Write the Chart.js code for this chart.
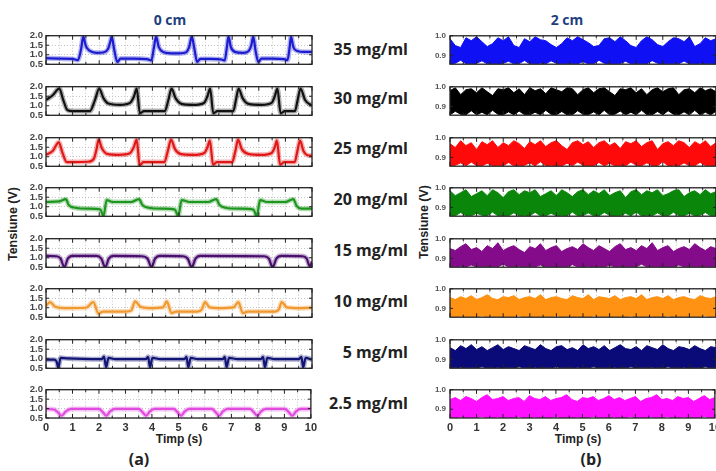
<!DOCTYPE html>
<html>
<head>
<meta charset="utf-8">
<script src="https://cdn.jsdelivr.net/npm/chart.js@4.4.0/dist/chart.umd.min.js"></script>
<style>
  body { margin: 0; width: 716px; height: 471px; overflow: hidden; background: #fff; position: relative; font-family: "Liberation Sans", Arial, sans-serif; }
  canvas { position: absolute; }
  .t { position: absolute; white-space: nowrap; transform: translate(-50%, -50%); color: #222; }
  .title { font: bold 14px "Open Sans", sans-serif; color: #1f3f7f; }
  .conc { position: absolute; white-space: nowrap; transform: translateY(-50%); right: 308px; font: bold 16px "Open Sans", sans-serif; color: #222; }
  .axt { font: bold 12px "Liberation Sans", Arial, sans-serif; }
  .ylab { font: bold 12.5px "Liberation Sans", Arial, sans-serif; transform: translate(-50%, -50%) rotate(-90deg); }
  .sub { font: bold 16px "Open Sans", sans-serif; }
</style>
</head>
<body>
<div class="t title" style="left:170px;top:19px">0 cm</div>
<div class="t title" style="left:567px;top:19px">2 cm</div>
<div class="t ylab" style="left:13px;top:224px">Tensiune (V)</div>
<div class="t ylab" style="left:424px;top:222px">Tensiune (V)</div>
<div class="t axt" style="left:179px;top:439px">Timp (s)</div>
<div class="t axt" style="left:578px;top:439px">Timp (s)</div>
<div class="t sub" style="left:139px;top:459px">(a)</div>
<div class="t sub" style="left:591px;top:459px">(b)</div>

<script>
// concentrations (rows, top to bottom)
const concLabels = ["35 mg/ml", "30 mg/ml", "25 mg/ml", "20 mg/ml", "15 mg/ml", "10 mg/ml", "5 mg/ml", "2.5 mg/ml"];

// 0 cm traces: [time (s), voltage (V)]
const s35 = [[0,0.82],[0.5,0.8],[1.0,0.78],[1.2,0.72],[1.32,1.3],[1.4,1.95],[1.5,1.45],[1.65,1.2],[1.9,1.1],[2.15,1.12],[2.33,1.3],[2.42,1.7],[2.47,1.95],[2.56,1.3],[2.68,0.62],[2.8,0.8],[3.3,0.8],[3.8,0.77],[3.96,0.7],[4.06,1.4],[4.14,1.95],[4.24,1.4],[4.4,1.15],[4.85,1.07],[5.25,1.12],[5.38,1.4],[5.48,1.95],[5.58,1.3],[5.68,0.62],[5.8,0.78],[6.2,0.78],[6.6,0.75],[6.72,0.7],[6.8,1.4],[6.86,1.95],[6.95,1.4],[7.1,1.15],[7.4,1.1],[7.62,1.2],[7.72,1.5],[7.79,1.95],[7.88,1.2],[7.98,0.62],[8.1,0.8],[8.5,0.8],[8.95,0.77],[9.08,0.72],[9.16,1.4],[9.21,1.95],[9.3,1.4],[9.45,1.2],[9.7,1.15],[10,1.15]];
const s30 = [[0,1.3],[0.25,1.55],[0.5,1.9],[0.65,1.3],[0.8,0.78],[1.0,0.72],[1.65,0.72],[1.84,1.3],[2.0,1.9],[2.16,1.4],[2.34,1.12],[2.78,1.05],[3.16,1.15],[3.31,1.5],[3.41,1.9],[3.53,0.6],[3.68,0.72],[4.47,0.72],[4.6,1.3],[4.72,1.9],[4.87,1.4],[5.1,1.1],[5.54,1.05],[5.94,1.15],[6.07,1.5],[6.17,1.9],[6.29,0.6],[6.44,0.72],[7.04,0.72],[7.14,1.3],[7.24,1.9],[7.39,1.4],[7.61,1.1],[8.11,1.05],[8.48,1.15],[8.6,1.5],[8.7,1.9],[8.82,0.6],[8.98,0.72],[9.36,0.72],[9.46,1.3],[9.57,1.9],[9.74,1.3],[10,1.0]];
const s25 = [[0,1.1],[0.25,1.3],[0.48,1.76],[0.62,1.2],[0.78,0.72],[1.0,0.72],[1.6,0.74],[1.8,0.9],[1.9,1.4],[1.98,1.9],[2.1,1.45],[2.3,1.15],[2.75,1.1],[3.15,1.18],[3.3,1.5],[3.41,1.9],[3.52,0.55],[3.66,0.72],[4.45,0.72],[4.58,1.3],[4.7,1.9],[4.85,1.4],[5.05,1.15],[5.55,1.1],[5.95,1.2],[6.07,1.5],[6.16,1.85],[6.28,0.58],[6.42,0.72],[7.0,0.72],[7.12,1.3],[7.22,1.9],[7.36,1.4],[7.6,1.15],[8.1,1.1],[8.48,1.2],[8.6,1.5],[8.68,1.85],[8.8,0.58],[8.95,0.72],[9.35,0.72],[9.45,1.3],[9.55,1.85],[9.68,1.3],[9.8,1.1],[10,1.05]];
const s20 = [[0,1.25],[0.5,1.28],[0.75,1.4],[0.85,1.1],[1.1,0.95],[1.6,0.9],[2.05,0.85],[2.16,0.5],[2.28,1.35],[2.5,1.25],[3.2,1.25],[3.5,1.4],[3.62,1.1],[3.85,0.95],[4.4,0.9],[4.85,0.85],[4.97,0.5],[5.1,1.35],[5.4,1.25],[6.1,1.25],[6.4,1.4],[6.52,1.1],[6.75,0.95],[7.3,0.9],[7.8,0.85],[7.92,0.5],[8.05,1.35],[8.3,1.25],[9.0,1.25],[9.3,1.4],[9.42,1.05],[9.6,0.9],[10,0.9]];
const s15 = [[0,1.1],[0.4,1.08],[0.55,0.95],[0.69,0.5],[0.82,0.95],[1.0,1.1],[1.9,1.1],[2.08,0.95],[2.23,0.5],[2.36,0.95],[2.55,1.1],[3.6,1.08],[3.82,0.95],[3.97,0.5],[4.1,0.95],[4.3,1.1],[5.15,1.08],[5.33,0.95],[5.48,0.5],[5.62,0.95],[5.8,1.1],[8.2,1.08],[8.38,0.95],[8.52,0.5],[8.66,0.95],[8.85,1.1],[9.65,1.08],[9.8,0.95],[9.92,0.55],[10,0.8]];
const s10 = [[0,1.1],[0.15,1.3],[0.35,1.05],[0.7,0.98],[1.5,1.0],[1.78,1.3],[1.97,0.7],[2.15,0.8],[3.0,0.8],[3.2,0.85],[3.35,1.33],[3.55,1.05],[3.9,0.98],[4.4,1.02],[4.54,1.33],[4.72,0.72],[4.9,0.8],[5.7,0.8],[5.85,0.9],[5.98,1.3],[6.15,1.02],[6.5,0.98],[7.05,1.02],[7.23,1.3],[7.4,0.72],[7.6,0.8],[8.6,0.8],[8.75,0.9],[8.86,1.3],[9.05,1.02],[9.5,0.98],[10,1.0]];
const s5 = [[0,0.95],[0.3,0.95],[0.4,0.85],[0.46,0.52],[0.55,1.05],[0.8,1.02],[2.1,0.98],[2.18,1.12],[2.26,0.55],[2.35,1.05],[2.6,0.98],[3.75,0.98],[3.84,1.1],[3.91,0.55],[4.0,1.05],[4.3,0.98],[5.2,0.98],[5.28,1.1],[5.35,0.55],[5.44,1.05],[5.7,0.98],[6.65,0.98],[6.72,1.1],[6.79,0.55],[6.88,1.05],[7.2,0.98],[8.08,0.98],[8.16,1.1],[8.23,0.55],[8.32,1.05],[8.6,0.98],[9.5,0.98],[9.6,1.1],[9.67,0.55],[9.76,1.05],[10,0.95]];
const s2_5 = [[0,0.98],[0.3,0.95],[0.45,0.8],[0.59,0.62],[0.75,0.85],[0.95,0.98],[2.0,0.98],[2.15,0.8],[2.28,0.62],[2.42,0.85],[2.6,0.98],[3.5,0.98],[3.65,0.8],[3.78,0.62],[3.92,0.85],[4.1,0.98],[4.82,0.98],[4.97,0.8],[5.1,0.62],[5.24,0.85],[5.42,0.98],[6.26,0.98],[6.41,0.8],[6.54,0.62],[6.68,0.85],[6.86,0.98],[7.7,0.98],[7.85,0.8],[7.98,0.62],[8.12,0.85],[8.3,0.98],[9.02,0.98],[9.17,0.8],[9.3,0.62],[9.44,0.85],[9.62,0.98],[10,0.98]];

// 2 cm traces: sampling times and upper / lower edge of the noise band (V)
const tRight = [0,0.2,0.4,0.6,0.8,1.0,1.2,1.4,1.6,1.8,2.0,2.2,2.4,2.6,2.8,3.0,3.2,3.4,3.6,3.8,4.0,4.2,4.4,4.6,4.8,5.0,5.2,5.4,5.6,5.8,6.0,6.2,6.4,6.6,6.8,7.0,7.2,7.4,7.6,7.8,8.0,8.2,8.4,8.6,8.8,9.0,9.2,9.4,9.6,9.8,10];
const up35 = [0.985,0.95,0.94,0.99,0.975,0.995,0.97,0.945,0.96,0.99,0.975,0.995,0.95,0.94,0.985,0.97,0.995,0.98,0.975,0.955,0.94,0.96,0.99,0.975,0.995,0.98,0.965,0.945,0.95,0.985,0.99,0.97,0.995,0.975,0.95,0.94,0.975,0.995,0.98,0.955,0.945,0.97,0.99,0.985,0.97,0.995,0.945,0.96,0.99,0.975,0.985];
const lo35 = [0.857,0.86,0.875,0.858,0.857,0.86,0.872,0.857,0.857,0.858,0.86,0.87,0.857,0.858,0.874,0.857,0.857,0.86,0.857,0.872,0.86,0.857,0.857,0.858,0.857,0.868,0.857,0.857,0.875,0.86,0.857,0.857,0.858,0.87,0.857,0.857,0.858,0.857,0.873,0.86,0.857,0.857,0.858,0.857,0.871,0.857,0.857,0.86,0.857,0.858,0.857];
const up30 = [0.98,0.995,0.96,0.985,0.99,0.97,0.995,0.975,0.955,0.99,0.985,0.995,0.97,0.99,0.96,0.995,0.98,0.99,0.965,0.995,0.985,0.975,0.995,0.99,0.96,0.985,0.995,0.97,0.99,0.995,0.975,0.955,0.99,0.985,0.995,0.97,0.99,0.96,0.985,0.995,0.975,0.99,0.995,0.96,0.985,0.99,0.97,0.995,0.98,0.99,0.975];
const lo30 = [0.857,0.875,0.86,0.857,0.878,0.857,0.87,0.857,0.88,0.86,0.857,0.872,0.857,0.876,0.858,0.857,0.87,0.857,0.88,0.86,0.857,0.874,0.857,0.857,0.878,0.86,0.857,0.872,0.857,0.88,0.857,0.86,0.876,0.857,0.87,0.857,0.88,0.858,0.857,0.874,0.857,0.878,0.86,0.857,0.872,0.857,0.88,0.857,0.87,0.857,0.875];
const up25 = [0.97,0.95,0.985,0.96,0.975,0.94,0.98,0.965,0.985,0.95,0.975,0.96,0.985,0.97,0.945,0.98,0.965,0.985,0.955,0.975,0.985,0.96,0.94,0.975,0.985,0.965,0.98,0.95,0.975,0.985,0.96,0.975,0.945,0.98,0.97,0.985,0.955,0.975,0.985,0.94,0.97,0.98,0.96,0.985,0.975,0.95,0.98,0.965,0.985,0.955,0.975];
const lo25 = [0.857,0.86,0.872,0.857,0.876,0.858,0.857,0.87,0.857,0.86,0.857,0.874,0.857,0.857,0.86,0.872,0.857,0.878,0.857,0.86,0.857,0.857,0.87,0.857,0.876,0.86,0.857,0.857,0.874,0.857,0.87,0.857,0.858,0.857,0.876,0.86,0.857,0.872,0.857,0.857,0.878,0.857,0.86,0.857,0.872,0.857,0.857,0.875,0.858,0.857,0.86];
const up20 = [0.985,0.96,0.975,0.99,0.955,0.97,0.985,0.96,0.99,0.975,0.95,0.98,0.99,0.965,0.985,0.975,0.99,0.955,0.97,0.985,0.96,0.99,0.975,0.955,0.98,0.99,0.965,0.985,0.97,0.99,0.96,0.975,0.985,0.95,0.98,0.99,0.965,0.985,0.975,0.99,0.96,0.97,0.985,0.99,0.955,0.975,0.985,0.965,0.99,0.97,0.98];
const lo20 = [0.86,0.857,0.874,0.857,0.857,0.87,0.86,0.857,0.876,0.857,0.858,0.857,0.872,0.857,0.86,0.857,0.875,0.857,0.857,0.87,0.857,0.86,0.857,0.876,0.857,0.858,0.872,0.857,0.857,0.874,0.86,0.857,0.857,0.87,0.857,0.876,0.857,0.86,0.857,0.872,0.857,0.857,0.875,0.858,0.857,0.87,0.857,0.86,0.874,0.857,0.857];
const up15 = [0.95,0.94,0.96,0.975,0.945,0.955,0.935,0.965,0.95,0.98,0.94,0.955,0.965,0.945,0.93,0.96,0.95,0.975,0.94,0.955,0.965,0.935,0.95,0.96,0.945,0.975,0.955,0.94,0.965,0.95,0.935,0.96,0.975,0.945,0.955,0.94,0.965,0.95,0.98,0.94,0.955,0.965,0.935,0.95,0.96,0.945,0.975,0.955,0.94,0.96,0.95];
const lo15 = [0.857,0.857,0.86,0.857,0.866,0.857,0.857,0.858,0.857,0.857,0.87,0.857,0.857,0.86,0.857,0.857,0.857,0.866,0.857,0.857,0.858,0.857,0.857,0.868,0.857,0.857,0.86,0.857,0.857,0.857,0.865,0.857,0.857,0.857,0.858,0.857,0.87,0.857,0.857,0.857,0.86,0.857,0.857,0.866,0.857,0.857,0.857,0.858,0.857,0.857,0.857];
const up10 = [0.955,0.945,0.96,0.95,0.965,0.945,0.955,0.97,0.95,0.945,0.96,0.955,0.965,0.945,0.955,0.96,0.95,0.97,0.945,0.955,0.96,0.95,0.945,0.965,0.955,0.95,0.97,0.945,0.96,0.955,0.95,0.965,0.945,0.955,0.96,0.95,0.97,0.945,0.955,0.96,0.95,0.965,0.945,0.955,0.96,0.95,0.945,0.965,0.955,0.95,0.96];
const up5 = [0.96,0.945,0.97,0.955,0.975,0.95,0.965,0.945,0.96,0.975,0.95,0.965,0.955,0.945,0.97,0.96,0.95,0.975,0.955,0.945,0.965,0.97,0.95,0.96,0.945,0.975,0.955,0.965,0.95,0.97,0.945,0.96,0.975,0.955,0.95,0.965,0.945,0.97,0.96,0.95,0.975,0.955,0.945,0.965,0.96,0.95,0.97,0.955,0.945,0.965,0.96];
const up2_5 = [0.95,0.96,0.945,0.965,0.955,0.94,0.96,0.975,0.95,0.955,0.965,0.945,0.955,0.96,0.94,0.97,0.955,0.95,0.965,0.945,0.955,0.96,0.975,0.95,0.94,0.96,0.955,0.965,0.945,0.955,0.97,0.95,0.96,0.945,0.955,0.965,0.94,0.955,0.96,0.975,0.95,0.955,0.945,0.965,0.955,0.96,0.94,0.955,0.97,0.95,0.96];
// band floor shared by the three lowest-concentration 2 cm traces
const loFloor = [0.857,0.857,0.86,0.857,0.857,0.857,0.862,0.857,0.857,0.86,0.857,0.857,0.857,0.862,0.857,0.857,0.86,0.857,0.857,0.857,0.862,0.857,0.857,0.857,0.86,0.857,0.857,0.862,0.857,0.857,0.857,0.86,0.857,0.857,0.862,0.857,0.857,0.857,0.86,0.857,0.857,0.862,0.857,0.857,0.86,0.857,0.857,0.857,0.862,0.857,0.857];

// axis ticks
const xTickLabels = [0, 1, 2, 3, 4, 5, 6, 7, 8, 9, 10];
const yLeftTicks = [0.5, 1.0, 1.5, 2.0];
const yRightTicks = [0.9, 1.0];

const leftSeries = [s35, s30, s25, s20, s15, s10, s5, s2_5];
const rightUpper = [up35, up30, up25, up20, up15, up10, up5, up2_5];
const rightLower = [lo35, lo30, lo25, lo20, lo15, loFloor, loFloor, loFloor];

// styles
const leftColors = ["#1c1cd0", "#111111", "#e01818", "#1f951f", "#4a0f6e", "#f09a30", "#131575", "#e24ce0"];
const rightColors = ["#1010f5", "#000000", "#ff0a0a", "#0a870a", "#840c8a", "#ff9212", "#0a0a78", "#ff10ff"];
const tops = [34, 85, 136, 186, 237, 287, 338, 388];
const heights = [32, 32, 32, 32, 32, 32, 32, 30];
const labelY = [49, 98, 148, 199, 250, 301, 352, 403];

// box + inward tick marks
const frame = {
  id: "frame",
  afterDatasetsDraw(chart) {
    const { ctx, chartArea: a, scales } = chart;
    ctx.save();
    ctx.strokeStyle = "#222";
    ctx.lineWidth = 1.3;
    ctx.strokeRect(a.left, a.top, a.right - a.left, a.bottom - a.top);
    ctx.lineWidth = 1;
    ctx.beginPath();
    scales.x.ticks.forEach((t) => {
      const px = scales.x.getPixelForValue(t.value);
      const len = Number.isInteger(t.value) ? 4 : 2.5;
      ctx.moveTo(px, a.top); ctx.lineTo(px, a.top + len);
      ctx.moveTo(px, a.bottom); ctx.lineTo(px, a.bottom - len);
    });
    scales.y.ticks.forEach((t) => {
      const py = scales.y.getPixelForValue(t.value);
      ctx.moveTo(a.left, py); ctx.lineTo(a.left + 3, py);
      ctx.moveTo(a.right, py); ctx.lineTo(a.right - 3, py);
    });
    ctx.stroke();
    ctx.restore();
  },
};

function makePanel(left, row, datasets, yScale) {
  const last = row === tops.length - 1;
  const padTop = 7, padBottom = last ? 2 : 7, xH = last ? 17 : 0;
  const canvas = document.createElement("canvas");
  canvas.width = 306;
  canvas.height = padTop + heights[row] + xH + padBottom;
  canvas.style.left = left + "px";
  canvas.style.top = tops[row] - padTop + "px";
  document.body.appendChild(canvas);

  new Chart(canvas, {
    type: "line",
    data: { datasets },
    options: {
      responsive: false,
      animation: false,
      layout: { padding: { top: padTop, bottom: padBottom, right: 8, left: 0 } },
      plugins: { legend: { display: false }, tooltip: { enabled: false } },
      elements: { point: { radius: 0 } },
      scales: {
        x: {
          type: "linear",
          min: 0,
          max: 10,
          afterFit: (s) => { s.height = xH; },
          ticks: {
            display: last,
            stepSize: 0.5,
            autoSkip: false,
            maxRotation: 0,
            padding: 3,
            color: "#333",
            font: { family: "Liberation Sans", weight: "bold", size: 11 },
            callback: (v) => (xTickLabels.includes(v) ? v : ""),
          },
          grid: { color: "#b8b8b8", lineWidth: 0.8, drawTicks: false },
          border: { display: false, dash: [1, 2] },
        },
        y: yScale,
      },
    },
    plugins: [frame],
  });
}

concLabels.forEach((name, i) => {
  const d = document.createElement("div");
  d.className = "conc";
  d.style.top = labelY[i] + "px";
  d.textContent = name;
  document.body.appendChild(d);

  // 0 cm column
  const pts = leftSeries[i].map((p) => ({ x: p[0], y: p[1] }));
  const c = leftColors[i];
  makePanel(14, i, [
    { data: pts, borderColor: c + "55", borderWidth: 5, cubicInterpolationMode: "monotone", fill: false },
    { data: pts, borderColor: c, borderWidth: 2.2, cubicInterpolationMode: "monotone", fill: false },
  ], {
    min: 0.5,
    max: 2.0,
    afterFit: (s) => { s.width = 32; },
    afterBuildTicks: (s) => { s.ticks = yLeftTicks.map((v) => ({ value: v })); },
    ticks: {
      autoSkip: false,
      padding: 3,
      color: "#444",
      font: { family: "Liberation Sans", weight: "bold", size: 9.5 },
      callback: (v) => v.toFixed(1),
    },
    grid: { color: "#b8b8b8", lineWidth: 0.8, drawTicks: false },
    border: { display: false, dash: [1, 2] },
  });

  // 2 cm column
  const rc = rightColors[i];
  makePanel(418, i, [
    { data: tRight.map((t, k) => ({ x: t, y: rightLower[i][k] })), borderColor: rc, borderWidth: 1, fill: false },
    { data: tRight.map((t, k) => ({ x: t, y: rightUpper[i][k] })), borderColor: rc, borderWidth: 1, backgroundColor: rc, fill: "-1" },
  ], {
    min: 0.855,
    max: 1.0,
    afterFit: (s) => { s.width = 32; },
    afterBuildTicks: (s) => { s.ticks = yRightTicks.map((v) => ({ value: v })); },
    ticks: {
      autoSkip: false,
      padding: 4,
      color: "#555",
      font: { family: "Liberation Sans", weight: "bold", size: 8 },
      callback: (v) => v.toFixed(1),
    },
    grid: { color: "#b8b8b8", lineWidth: 0.8, drawTicks: false },
    border: { display: false, dash: [1, 2] },
  });
});
</script>
</body>
</html>
